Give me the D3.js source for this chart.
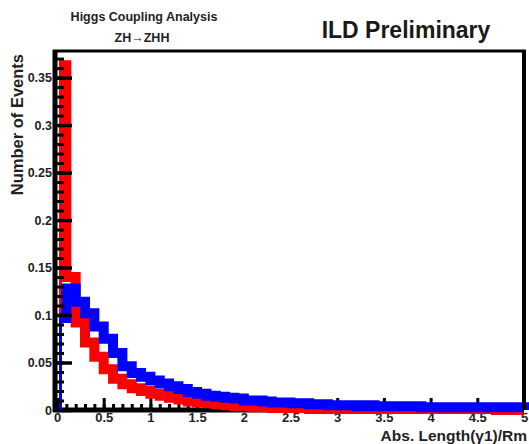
<!DOCTYPE html>
<html>
<head>
<meta charset="utf-8">
<script src="https://cdn.jsdelivr.net/npm/d3@7"></script>
<style>
  body { margin: 0; background: #fff; }
  text { font-family: "Liberation Sans", Arial, sans-serif; }
</style>
</head>
<body>
<svg id="chart" width="529" height="444"></svg>
<script>
// histogram bins, width 0.1 from 0 to 5
var binWidth = 0.1;
var redVals = [0.363, 0.140, 0.092, 0.071, 0.056, 0.043, 0.033, 0.027, 0.023, 0.020,
  0.017, 0.015, 0.013, 0.011, 0.009, 0.008, 0.007, 0.006, 0.005, 0.004,
  0.004, 0.003, 0.003, 0.002, 0.002, 0.002, 0.002, 0.001, 0.001, 0.001,
  0.001, 0.001, 0.001, 0.001, 0.001, 0.001, 0.001, 0.001, 0.001, 0.001,
  0.001, 0.001, 0.001, 0.001, 0.001, 0.001, 0.001, 0.000, 0.000, 0.000];
var blueVals = [0.097, 0.128, 0.114, 0.102, 0.088, 0.075, 0.060, 0.046, 0.039, 0.035,
  0.031, 0.028, 0.025, 0.022, 0.019, 0.017, 0.015, 0.014, 0.013, 0.012,
  0.010, 0.010, 0.009, 0.008, 0.008, 0.007, 0.007, 0.006, 0.006, 0.005,
  0.005, 0.005, 0.004, 0.005, 0.004, 0.004, 0.004, 0.004, 0.004, 0.003,
  0.003, 0.003, 0.003, 0.003, 0.003, 0.003, 0.003, 0.003, 0.003, 0.003];
var xTicks = [0, 0.5, 1, 1.5, 2, 2.5, 3, 3.5, 4, 4.5, 5];
var yTicks = [0, 0.05, 0.1, 0.15, 0.2, 0.25, 0.3, 0.35];

var svg = d3.select("#chart");
var x = d3.scaleLinear().domain([0, 5]).range([57, 524]);
var y = d3.scaleLinear().domain([0, 0.378]).range([410, 51]);

// x axis ticks (drawn under the histograms)
var xMinor = d3.range(0, 5.001, 0.1);
svg.append("g")
  .attr("transform", "translate(0," + y(0) + ")")
  .call(d3.axisBottom(x).tickValues(xMinor).tickSize(-6).tickFormat(""))
  .call(g => g.select(".domain").remove())
  .selectAll("line").attr("stroke", "#000").attr("stroke-width", 3);
var xAx = svg.append("g")
  .attr("transform", "translate(0," + y(0) + ")")
  .call(d3.axisBottom(x).tickValues(xTicks).tickSize(-12).tickPadding(3)
    .tickFormat(d => String(d)));
xAx.select(".domain").remove();
xAx.selectAll("line").attr("stroke", "#000").attr("stroke-width", 3);
xAx.selectAll("text").attr("font-size", 13).attr("font-weight", "bold")
  .attr("fill", "#222").attr("font-family", "Liberation Sans, Arial, sans-serif");

// bottom axis line
svg.append("line")
  .attr("x1", x(0) - 4).attr("x2", x(5))
  .attr("y1", y(0)).attr("y2", y(0))
  .attr("stroke", "#000").attr("stroke-width", 5);

svg.append("clipPath").attr("id", "clip")
  .append("rect").attr("x", x(0) + 2).attr("y", 0).attr("width", 529).attr("height", 444);

function stepPoints(vals) {
  var pts = [[0, 0]];
  vals.forEach(function(v, i) {
    pts.push([i * binWidth, v]);
    pts.push([(i + 1) * binWidth, v]);
  });
  pts.push([vals.length * binWidth, 0]);
  return pts;
}
var line = d3.line().x(d => x(d[0])).y(d => y(d[1]));

var hg = svg.append("g").attr("clip-path", "url(#clip)");
hg.append("path").attr("d", line(stepPoints(redVals)))
  .attr("fill", "none").attr("stroke", "#ff0000").attr("stroke-width", 10)
  .attr("stroke-linejoin", "miter");
hg.append("path").attr("d", line(stepPoints(blueVals)))
  .attr("fill", "none").attr("stroke", "#0000ff").attr("stroke-width", 10)
  .attr("stroke-linejoin", "miter");

// y axis
var yMinor = d3.range(0, 0.3751, 0.01);
svg.append("g")
  .attr("transform", "translate(" + x(0) + ",0)")
  .call(d3.axisLeft(y).tickValues(yMinor).tickSize(-7).tickFormat(""))
  .call(g => g.select(".domain").remove())
  .selectAll("line").attr("stroke", "#000").attr("stroke-width", 3);
var yAx = svg.append("g")
  .attr("transform", "translate(" + x(0) + ",0)")
  .call(d3.axisLeft(y).tickValues(yTicks).tickSize(-15).tickPadding(5)
    .tickFormat(d => String(+d.toFixed(2))));
yAx.select(".domain").remove();
yAx.selectAll("line").attr("stroke", "#000").attr("stroke-width", 3.5);
yAx.selectAll("text").attr("font-size", 12.5).attr("font-weight", "bold")
  .attr("fill", "#222").attr("font-family", "Liberation Sans, Arial, sans-serif");

// frame
svg.append("line")
  .attr("x1", x(0) - 2).attr("x2", x(0) - 2)
  .attr("y1", y.range()[1] - 1).attr("y2", y(0) + 2)
  .attr("stroke", "#000").attr("stroke-width", 5);
svg.append("line")
  .attr("x1", x(0) - 4).attr("x2", x(5) + 2)
  .attr("y1", y.range()[1]).attr("y2", y.range()[1])
  .attr("stroke", "#000").attr("stroke-width", 3);
svg.append("line")
  .attr("x1", x(5)).attr("x2", x(5))
  .attr("y1", y.range()[1]).attr("y2", y(0))
  .attr("stroke", "#000").attr("stroke-width", 4);

// titles
svg.append("text").attr("x", 144).attr("y", 21).attr("text-anchor", "middle")
  .attr("font-size", 12.5).attr("font-weight", "bold").attr("fill", "#222")
  .text("Higgs Coupling Analysis");
svg.append("text").attr("x", 142).attr("y", 42).attr("text-anchor", "middle")
  .attr("font-size", 12.5).attr("font-weight", "bold").attr("fill", "#222")
  .text("ZH\u2192ZHH");
svg.append("text").attr("x", 406).attr("y", 38).attr("text-anchor", "middle")
  .attr("font-size", 23).attr("font-weight", "bold").attr("fill", "#1a1a1a")
  .text("ILD Preliminary");
svg.append("text").attr("x", 527).attr("y", 441).attr("text-anchor", "end")
  .attr("font-size", 15.5).attr("font-weight", "bold").attr("fill", "#222")
  .text("Abs. Length(\u03b31)/Rm");
svg.append("text").attr("transform", "translate(23,54) rotate(-90)")
  .attr("text-anchor", "end")
  .attr("font-size", 16.5).attr("font-weight", "bold").attr("fill", "#222")
  .text("Number of Events");
</script>
</body>
</html>
